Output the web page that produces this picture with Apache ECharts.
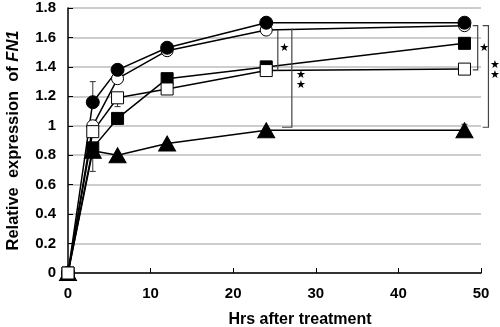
<!DOCTYPE html>
<html>
<head>
<meta charset="utf-8">
<script src="https://cdn.jsdelivr.net/npm/echarts@6/dist/echarts.min.js"></script>
<style>
  html, body { margin: 0; padding: 0; background: #fff; }
  #chart { width: 500px; height: 327px; }
</style>
</head>
<body>
<div id="chart"></div>
<script>
  // hours after treatment
  var hours = [0, 3, 6, 12, 24, 48];
  // relative expression of FN1
  var filledCircle = [0, 1.16, 1.38, 1.53, 1.70, 1.70];
  var openCircle = [0, 1.00, 1.32, 1.51, 1.65, 1.68];
  var filledSquare = [0, 0.85, 1.05, 1.32, 1.40, 1.56];
  var openSquare = [0, 0.96, 1.19, 1.25, 1.375, 1.385];
  var triangle = [0, 0.83, 0.80, 0.88, 0.97, 0.97];
  // error bars: [hour, low, high]
  var errorBars = [[3, 1.16, 1.30], [6, 1.13, 1.19], [3, 0.69, 0.85], [48, 0.97, 1.01]];
  // significance brackets (hour, value) and star labels
  var brackets = [
    [[25.4, 1.65], [25.4, 1.375]],
    [[25.9, 0.99], [27.1, 0.99], [27.1, 1.66]],
    [[49.0, 1.68], [49.6, 1.68], [49.6, 1.38], [49.0, 1.38]],
    [[50.2, 1.68], [50.9, 1.68], [50.9, 0.99], [50.2, 0.99]]
  ];
  var stars = [[26.2, 1.53, '★'], [28.2, 1.31, '★\n★'], [50.4, 1.53, '★'], [51.7, 1.38, '★\n★']];

  function pts(vals) {
    return hours.map(function (h, i) { return [h, vals[i]]; });
  }

  function makeSeries(name, vals, symbol, size, fill) {
    return {
      name: name,
      type: 'line',
      data: pts(vals),
      symbol: symbol,
      symbolSize: size,
      showAllSymbol: true,
      lineStyle: { color: '#000', width: 1.5 },
      itemStyle: { color: fill, borderColor: '#000', borderWidth: 1 },
      z: 3
    };
  }

  var bold = { fontFamily: 'Liberation Sans', fontWeight: 'bold', color: '#000' };

  var chart = echarts.init(document.getElementById('chart'));
  chart.setOption({
    animation: false,
    grid: { left: 68, right: 19, top: 8, bottom: 54, outerBoundsMode: 'none' },
    xAxis: {
      type: 'value',
      min: 0, max: 50, interval: 10,
      name: 'Hrs after treatment',
      nameLocation: 'middle',
      nameGap: 39,
      nameTextStyle: Object.assign({ fontSize: 16, padding: [0, 0, 0, 51] }, bold),
      axisLine: { lineStyle: { color: '#000', width: 1.5 } },
      axisTick: { inside: true, length: 5, lineStyle: { color: '#000' } },
      axisLabel: Object.assign({ fontSize: 15, margin: 13 }, bold),
      splitLine: { show: false }
    },
    yAxis: {
      type: 'value',
      min: 0, max: 1.8, interval: 0.2,
      name: '{n|Relative  expression  of }{i|FN1}',
      nameLocation: 'middle',
      nameGap: 46,
      nameTextStyle: {
        rich: {
          n: Object.assign({ fontSize: 16.5 }, bold),
          i: Object.assign({ fontSize: 16.5, fontStyle: 'italic' }, bold)
        }
      },
      axisLine: { show: true, lineStyle: { color: '#000', width: 1.5 } },
      axisTick: { show: true, inside: true, length: 5, lineStyle: { color: '#000' } },
      axisLabel: Object.assign({
        fontSize: 15, margin: 12,
        formatter: function (v) { return String(Math.round(v * 10) / 10); }
      }, bold),
      splitLine: { lineStyle: { color: '#bdbdbd', width: 1.5 } }
    },
    series: [
      {
        type: 'custom',
        data: errorBars,
        z: 2,
        renderItem: function (params, api) {
          var top = api.coord([api.value(0), api.value(2)]);
          var bot = api.coord([api.value(0), api.value(1)]);
          var style = { stroke: '#333', lineWidth: 1 };
          return {
            type: 'group',
            children: [
              { type: 'line', shape: { x1: top[0], y1: top[1], x2: bot[0], y2: bot[1] }, style: style },
              { type: 'line', shape: { x1: top[0] - 3, y1: top[1], x2: top[0] + 3, y2: top[1] }, style: style },
              { type: 'line', shape: { x1: bot[0] - 3, y1: bot[1], x2: bot[0] + 3, y2: bot[1] }, style: style }
            ]
          };
        }
      },
      makeSeries('triangle', triangle, 'triangle', [17, 15], '#000'),
      makeSeries('filled square', filledSquare, 'rect', 12, '#000'),
      makeSeries('open circle', openCircle, 'circle', 12, '#fff'),
      makeSeries('filled circle', filledCircle, 'circle', 13, '#000'),
      makeSeries('open square', openSquare, 'rect', 12, '#fff'),
      {
        type: 'custom',
        data: brackets.map(function (b, i) { return [i]; }),
        clip: false,
        z: 4,
        renderItem: function (params, api) {
          var b = brackets[api.value(0)];
          return {
            type: 'polyline',
            shape: { points: b.map(function (p) { return api.coord(p); }) },
            style: { stroke: '#444', lineWidth: 1.2, fill: null }
          };
        }
      },
      {
        type: 'custom',
        data: stars.map(function (s, i) { return [s[0], s[1], i]; }),
        clip: false,
        z: 4,
        renderItem: function (params, api) {
          var p = api.coord([api.value(0), api.value(1)]);
          return {
            type: 'text',
            x: p[0], y: p[1],
            style: {
              text: stars[api.value(2)][2],
              fontFamily: 'DejaVu Sans', fontSize: 11, lineHeight: 10,
              fill: '#000', align: 'center', verticalAlign: 'middle'
            }
          };
        }
      }
    ]
  });
</script>
</body>
</html>
